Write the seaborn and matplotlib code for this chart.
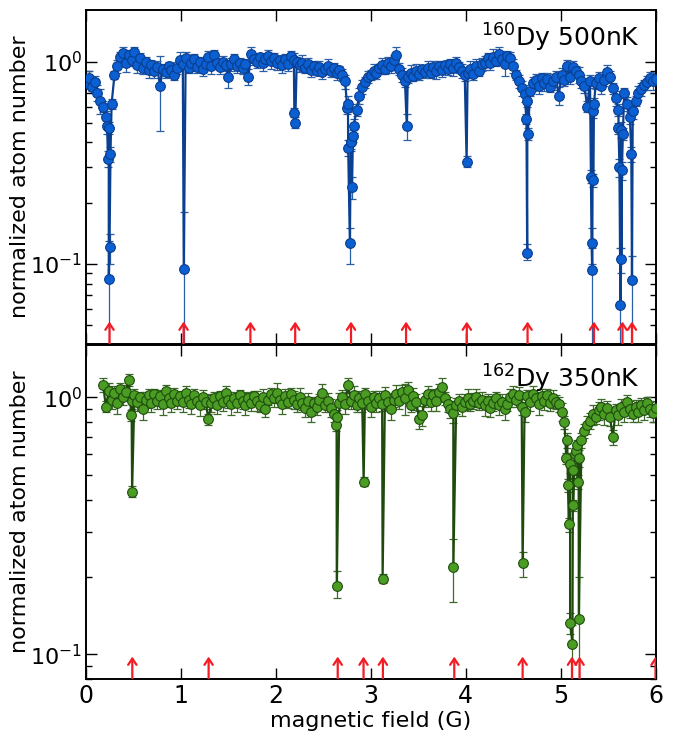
import numpy as np
import pandas as pd
import matplotlib
matplotlib.use("Agg")
import matplotlib.pyplot as plt
import seaborn as sns
from matplotlib.ticker import LogLocator, NullFormatter, FixedLocator

# ---------------- data: 160Dy, 500 nK (top) ----------------
top_field_start = 0.0
top_field_step = 0.03
top_atoms = [
    0.78, 0.83, 0.75, 0.79, 0.70, 0.64, 0.60, 0.53, 0.47, 0.62,
    0.86, 0.95, 1.05, 1.10, 0.98, 1.08, 1.02, 1.12, 0.96, 1.04,
    0.93, 1.00, 0.91, 0.96, 0.90, 0.94, 0.76, 0.92, 0.89, 0.95,
    0.91, 0.86, 0.93, 1.02, 0.97, 1.04, 0.93, 0.98, 1.03, 0.94,
    1.00, 0.92, 0.97, 1.05, 0.95, 1.08, 0.99, 0.94, 1.00, 0.96,
    0.84, 0.97, 1.03, 0.95, 0.99, 0.93, 0.97, 0.84, 1.09, 1.03,
    1.00, 1.05, 0.98, 1.03, 1.07, 1.01, 1.04, 0.98, 1.02, 0.96,
    1.03, 0.97, 1.07, 1.02, 1.00, 0.96, 0.99, 0.93, 0.97, 0.91,
    0.95, 0.90, 0.94, 0.89, 0.92, 0.95, 0.90, 0.93, 0.88, 0.91,
    0.86, 0.80, 0.62, 0.40, 0.48, 0.58, 0.68, 0.75, 0.79, 0.84,
    0.86, 0.90, 0.88, 0.93, 0.96, 0.92, 0.98, 0.95, 1.02, 1.08,
    0.92, 0.86, 0.80, 0.84, 0.88, 0.85, 0.90, 0.87, 0.92, 0.89,
    0.93, 0.88, 0.94, 0.90, 0.95, 0.91, 0.96, 0.92, 0.97, 0.93,
    0.99, 0.94, 0.90, 0.86, 0.88, 0.92, 0.87, 0.95, 0.90, 0.97,
    0.99, 1.04, 0.98, 1.06, 1.01, 1.09, 1.03, 0.97, 1.07, 1.04,
    0.95, 0.86, 0.80, 0.74, 0.69, 0.64, 0.72, 0.78, 0.81, 0.76,
    0.83, 0.78, 0.82, 0.75, 0.80, 0.84, 0.68, 0.86, 0.81, 0.95,
    0.84, 0.94, 0.90, 0.86, 0.80, 0.76, 0.60, 0.80, 0.57, 0.78,
    0.83, 0.76, 0.81, 0.89, 0.84, 0.74, 0.66, 0.58, 0.46, 0.70,
    0.62, 0.53, 0.57, 0.64, 0.70, 0.73, 0.77, 0.79, 0.83, 0.80,
    0.82,
]
top_err_pct = [
    6, 8, 5, 7, 9, 14, 6, 8, 7, 6,
    5, 7, 6, 8, 9, 6, 7, 5, 8, 6,
    7, 5, 9, 6, 8, 7, 40, 6, 7, 5,
    8, 6, 7, 9, 5, 7, 6, 8, 6, 7,
    5, 8, 6, 7, 9, 6, 5, 8, 7, 6,
    12, 7, 6, 8, 5, 7, 6, 9, 8, 6,
    7, 5, 8, 6, 7, 9, 6, 7, 5, 8,
    6, 7, 5, 8, 6, 7, 9, 6, 7, 8,
    6, 5, 7, 8, 6, 9, 7, 6, 8, 5,
    7, 8, 9, 10, 8, 7, 9, 8, 6, 7,
    6, 8, 7, 5, 9, 6, 7, 8, 6, 9,
    7, 8, 6, 7, 9, 6, 8, 7, 5, 7,
    8, 6, 7, 9, 6, 8, 5, 7, 6, 9,
    7, 6, 8, 7, 6, 9, 7, 8, 6, 7,
    8, 6, 7, 9, 6, 8, 7, 12, 6, 7,
    8, 6, 7, 9, 8, 7, 6, 8, 7, 9,
    6, 8, 7, 6, 9, 7, 10, 8, 6, 7,
    8, 7, 6, 9, 7, 8, 6, 7, 8, 6,
    7, 9, 6, 8, 7, 6, 8, 7, 9, 6,
    8, 7, 9, 6, 8, 7, 6, 8, 7, 9,
    7,
]
top_dip_field = [0.222, 0.232, 0.240, 0.248, 0.258, 1.030, 2.195, 2.205,
                 2.752, 2.762, 2.780, 2.790, 2.803, 2.812, 3.380, 4.010,
                 4.640, 4.648, 4.655, 5.320, 5.326, 5.333, 5.343, 5.352,
                 5.610, 5.620, 5.630, 5.640, 5.646, 5.656, 5.745, 5.752]
top_dip_atoms = [0.48, 0.33, 0.084, 0.122, 0.35, 0.094, 0.56, 0.50,
                 0.59, 0.376, 0.127, 0.40, 0.24, 0.43, 0.48, 0.32,
                 0.52, 0.113, 0.44, 0.27, 0.127, 0.093, 0.26, 0.62,
                 0.47, 0.30, 0.063, 0.106, 0.29, 0.44, 0.35, 0.083]
top_dip_low = [0.44, 0.30, 0.03, 0.10, 0.32, 0.03, 0.53, 0.47,
               0.55, 0.34, 0.10, 0.37, 0.21, 0.40, 0.41, 0.30,
               0.49, 0.105, 0.41, 0.25, 0.10, 0.03, 0.24, 0.58,
               0.44, 0.27, 0.03, 0.09, 0.26, 0.41, 0.32, 0.03]
top_dip_high = [0.52, 0.36, 0.13, 0.14, 0.38, 0.18, 0.59, 0.53,
                0.63, 0.41, 0.15, 0.43, 0.27, 0.46, 0.55, 0.34,
                0.55, 0.125, 0.47, 0.29, 0.15, 0.12, 0.28, 0.66,
                0.50, 0.33, 0.12, 0.12, 0.32, 0.47, 0.38, 0.11]
top_arrows = [0.248, 1.028, 1.732, 2.204, 2.792, 3.372, 4.012, 4.652,
              5.352, 5.652, 5.752]

# ---------------- data: 162Dy, 350 nK (bottom) ----------------
bot_field_start = 0.18
bot_field_step = 0.03
bot_atoms = [
    1.12, 0.92, 1.06, 0.98, 1.04, 0.95, 1.08, 1.00, 1.05, 1.17,
    0.97, 1.02, 0.96, 1.00, 0.90, 0.98, 1.02, 0.95, 1.03, 0.97,
    1.01, 0.94, 1.06, 0.99, 0.95, 1.03, 0.97, 1.01, 0.96, 1.04,
    0.98, 0.94, 1.02, 0.97, 0.93, 1.00, 0.96, 0.82, 0.95, 0.99,
    0.93, 1.01, 0.96, 1.04, 0.98, 0.94, 0.99, 0.95, 1.02, 0.97,
    0.93, 0.99, 0.95, 1.01, 0.97, 0.93, 1.00, 0.90, 0.98, 1.03,
    0.99, 1.04, 0.98, 0.94, 1.01, 0.96, 1.03, 0.98, 0.94, 1.00,
    0.95, 0.91, 0.97, 0.88, 0.95, 0.92, 0.98, 1.04, 0.93, 0.97,
    0.91, 0.86, 0.84, 0.95, 1.00, 0.94, 1.12, 0.97, 1.02, 0.93,
    0.99, 0.95, 1.03, 0.97, 0.92, 1.00, 0.95, 0.99, 0.94, 1.02,
    0.96, 0.90, 0.98, 1.03, 0.97, 1.05, 0.99, 1.07, 0.93, 1.01,
    0.96, 0.82, 0.85, 0.98, 1.03, 0.96, 1.02, 0.97, 1.05, 1.10,
    0.99, 0.94, 0.90, 0.87, 0.93, 0.97, 0.92, 0.96, 0.99, 0.94,
    0.97, 1.00, 0.95, 0.98, 0.93, 0.97, 0.91, 0.95, 0.99, 0.93,
    0.96, 0.90, 0.94, 1.00, 1.03, 0.98, 1.02, 0.92, 0.88, 1.01,
    0.96, 1.03, 0.99, 0.94, 1.01, 0.97, 1.02, 0.95, 0.99, 0.96,
    0.94, 0.88, 0.80, 0.68, 0.55, 0.52, 0.62, 0.58, 0.68, 0.74,
    0.78, 0.81, 0.86, 0.84, 0.89, 0.92, 0.86, 0.91, 0.84, 0.70,
    0.89, 0.85, 0.92, 0.88, 0.96, 0.90, 0.86, 0.92, 0.88, 0.93,
    0.89, 0.95, 0.90, 0.87, 0.91,
]
bot_err_pct = [
    6, 5, 7, 8, 6, 9, 5, 7, 6, 5,
    7, 6, 8, 5, 9, 7, 6, 8, 5, 7,
    6, 9, 5, 7, 8, 6, 7, 5, 9, 6,
    7, 8, 6, 5, 9, 7, 6, 5, 8, 6,
    7, 5, 8, 6, 7, 9, 6, 8, 5, 7,
    8, 6, 7, 5, 9, 6, 8, 7, 5, 6,
    7, 9, 6, 8, 7, 5, 6, 8, 7, 9,
    6, 8, 7, 9, 6, 7, 5, 8, 6, 7,
    8, 7, 6, 9, 7, 8, 6, 7, 9, 6,
    7, 8, 6, 7, 9, 6, 8, 7, 6, 8,
    7, 9, 6, 8, 7, 6, 14, 7, 6, 8,
    7, 8, 9, 6, 7, 8, 6, 9, 7, 8,
    6, 7, 8, 9, 7, 6, 8, 7, 9, 6,
    7, 8, 6, 7, 9, 6, 8, 7, 6, 8,
    7, 9, 6, 8, 7, 6, 8, 7, 9, 6,
    8, 7, 6, 9, 7, 8, 6, 7, 8, 6,
    7, 8, 6, 7, 8, 7, 6, 8, 7, 6,
    8, 7, 9, 6, 8, 7, 9, 6, 8, 7,
    6, 8, 7, 9, 6, 8, 7, 6, 9, 7,
    8, 6, 7, 8, 6,
]
bot_dip_field = [0.478, 0.486, 2.632, 2.642, 2.925, 3.125, 3.870, 4.600,
                 5.060, 5.077, 5.087, 5.100, 5.125, 5.132, 5.150, 5.170,
                 5.180, 5.192]
bot_dip_atoms = [0.85, 0.43, 0.78, 0.185, 0.47, 0.197, 0.218, 0.226,
                 0.58, 0.455, 0.32, 0.132, 0.11, 0.38, 0.60, 0.65,
                 0.47, 0.137]
bot_dip_low = [0.81, 0.41, 0.74, 0.165, 0.45, 0.19, 0.16, 0.20,
               0.55, 0.43, 0.30, 0.12, 0.07, 0.36, 0.57, 0.62,
               0.44, 0.07]
bot_dip_high = [0.89, 0.45, 0.82, 0.21, 0.49, 0.205, 0.28, 0.25,
                0.61, 0.48, 0.34, 0.145, 0.13, 0.40, 0.63, 0.68,
                0.50, 0.20]
bot_arrows = [0.488, 1.292, 2.652, 2.924, 3.128, 3.880, 4.600, 5.120,
              5.200, 6.000]

x_ticks = [0, 1, 2, 3, 4, 5, 6]
x_ticklabels = ["0", "1", "2", "3", "4", "5", "6"]


def build_frame(start, step, atoms, err_pct, dx, dy, dlo, dhi):
    bx = start + step * np.arange(len(atoms))
    by = np.asarray(atoms, float)
    be = by * np.asarray(err_pct, float) / 100.0
    df = pd.DataFrame({
        "field": np.concatenate([bx, dx]),
        "atoms": np.concatenate([by, dy]),
        "low": np.concatenate([by - be, dlo]),
        "high": np.concatenate([by + be, dhi]),
    })
    return df.sort_values("field").reset_index(drop=True)


sns.set_style("ticks")
plt.rcParams["font.family"] = ["DejaVu Sans"]
plt.rcParams["mathtext.fontset"] = "dejavusans"
plt.rcParams["axes.unicode_minus"] = False
for key in ["text.color", "axes.labelcolor", "xtick.color", "ytick.color",
            "xtick.labelcolor", "ytick.labelcolor", "axes.edgecolor"]:
    plt.rcParams[key] = "black"

fig = plt.figure(figsize=(6.76, 7.36), dpi=100)
ax1 = fig.add_axes([0.1272, 0.5322, 0.8425, 0.4542])
ax2 = fig.add_axes([0.1272, 0.0770, 0.8425, 0.4542])

panels = [
    (ax1, build_frame(top_field_start, top_field_step, top_atoms, top_err_pct,
                      top_dip_field, top_dip_atoms, top_dip_low, top_dip_high),
     "#0b3f8f", "#2a5ea8", "#0a5fd2", "#0b3d8c", (0.0401, 1.80), top_arrows,
     r"$^{160}$Dy 500nK", 0.916),
    (ax2, build_frame(bot_field_start, bot_field_step, bot_atoms, bot_err_pct,
                      bot_dip_field, bot_dip_atoms, bot_dip_low, bot_dip_high),
     "#1e4a0e", "#3d6a2a", "#4a9c22", "#1f4d0e", (0.0799, 1.598), bot_arrows,
     r"$^{162}$Dy 350nK", 0.900),
]

red = "#f41c24"
for ax, df, lcol, ecol, face, edge, ylim, arrows, label, ly in panels:
    ax.errorbar(df["field"], df["atoms"],
                yerr=[df["atoms"] - df["low"], df["high"] - df["atoms"]],
                fmt="none", ecolor=ecol, elinewidth=0.9, capsize=2.6,
                capthick=0.9, zorder=2)
    sns.lineplot(data=df, x="field", y="atoms", ax=ax, estimator=None,
                 sort=False, color=lcol, lw=1.6, marker="o", markersize=7.0,
                 markerfacecolor=face, markeredgecolor=edge,
                 markeredgewidth=0.8, zorder=3)
    ax.set_yscale("log")
    ax.set_xlim(0, 6)
    ax.set_ylim(*ylim)
    ax.yaxis.set_major_locator(LogLocator(base=10, numticks=10))
    ax.yaxis.set_minor_locator(LogLocator(base=10, subs=np.arange(2, 10), numticks=20))
    ax.yaxis.set_minor_formatter(NullFormatter())
    ax.xaxis.set_major_locator(FixedLocator(x_ticks))
    ax.tick_params(which="both", direction="in", top=True, right=True,
                   width=1.0, color="black", labelcolor="black")
    ax.tick_params(axis="x", labelsize=17)
    ax.tick_params(axis="y", labelsize=16, pad=3)
    ax.tick_params(which="major", length=8)
    ax.tick_params(which="minor", length=4.5)
    for s in ax.spines.values():
        s.set_linewidth(1.4)
        s.set_color("black")
    ax.set_ylabel("normalized atom number", fontsize=16, color="black")
    ax.yaxis.set_label_coords(-0.098, 0.5)
    ax.text(0.973, ly, label, transform=ax.transAxes, ha="right",
            va="center", fontsize=18, color="black")
    trans = ax.get_xaxis_transform()
    for xa in arrows:
        ann = ax.annotate("", xy=(xa, 0.068), xytext=(xa, 0.0),
                          xycoords=trans, textcoords=trans,
                          arrowprops=dict(arrowstyle="->,head_length=0.45,head_width=0.3",
                                          color=red, lw=1.6, shrinkA=0, shrinkB=0),
                          zorder=5, annotation_clip=False)
        ann.arrow_patch.set_clip_box(ax.bbox)
        ann.arrow_patch.set_clip_on(True)

ax1.set_xlabel("")
ax1.tick_params(labelbottom=False)
ax2.set_xticklabels(x_ticklabels)
ax2.set_xlabel("magnetic field (G)", fontsize=16, labelpad=2, color="black")

fig.savefig("out.png", dpi=100)
